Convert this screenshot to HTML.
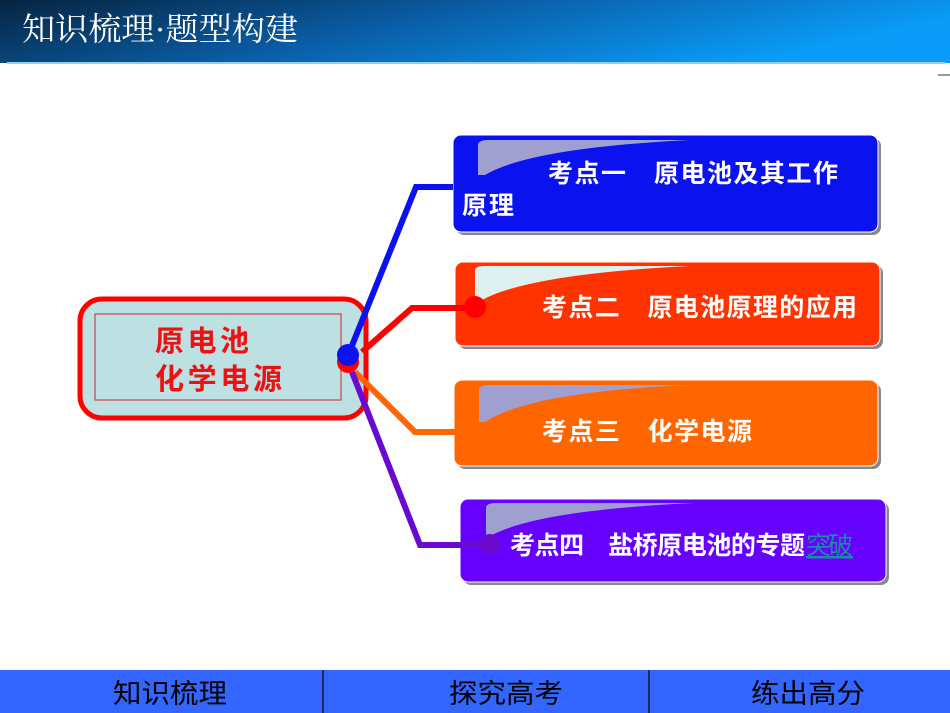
<!DOCTYPE html>
<html><head><meta charset="utf-8"><style>
html,body{margin:0;padding:0;background:#fff;}
svg{display:block}
text{font-family:"Liberation Sans","Noto Sans CJK SC",sans-serif;}
</style></head><body>
<svg width="950" height="713" viewBox="0 0 950 713" xmlns="http://www.w3.org/2000/svg">
<defs>
<linearGradient id="hg" x1="0" y1="0" x2="1" y2="0.3">
<stop offset="0" stop-color="#062440"/><stop offset="0.5" stop-color="#0a5fa8"/><stop offset="1" stop-color="#0a9cf8"/>
</linearGradient>
</defs>
<rect x="0" y="0" width="950" height="63" fill="url(#hg)"/>
<rect x="7" y="62" width="938" height="2" fill="#8fd0f0"/>
<rect x="938" y="74" width="12" height="2" fill="#999"/>
<text x="22" y="40" font-size="32" fill="#fff" textLength="276" lengthAdjust="spacingAndGlyphs" style="font-family:'Liberation Serif','Noto Serif CJK SC',serif">知识梳理·题型构建</text>

<g font-size="25" font-weight="bold" fill="#fff">
<rect x="456" y="138" width="425" height="97" rx="8" fill="#888"/>
<rect x="453" y="135" width="425" height="97" rx="8" fill="#0a12f0" stroke="#fff" stroke-width="1"/>
<path d="M478 145 Q478 140 488 140 L690 140 Q530 148 485 175 L478 175 Z" fill="#a0a0d0"/>
<text x="548" y="182" textLength="290" lengthAdjust="spacing">考点一　原电池及其工作</text>
<text x="462" y="214" textLength="52" lengthAdjust="spacing">原理</text>

<rect x="458" y="265" width="425" height="84" rx="8" fill="#888"/>
<rect x="455" y="262" width="425" height="84" rx="8" fill="#ff3300" stroke="#fff" stroke-width="1"/>
<path d="M475 270 Q475 266 485 266 L690 266 Q530 274 482 300 L475 300 Z" fill="#dff0f0"/>
<text x="542" y="316" textLength="315" lengthAdjust="spacing">考点二　原电池原理的应用</text>

<rect x="457" y="383" width="424" height="86" rx="8" fill="#888"/>
<rect x="454" y="380" width="424" height="86" rx="8" fill="#ff6600" stroke="#fff" stroke-width="1"/>
<path d="M479 390 Q479 385 489 385 L690 385 Q530 392 485 422 L479 422 Z" fill="#a0a0d0"/>
<text x="542" y="440" textLength="210" lengthAdjust="spacing">考点三　化学电源</text>

<rect x="463" y="502" width="426" height="83" rx="8" fill="#888"/>
<rect x="460" y="499" width="426" height="83" rx="8" fill="#6600ff" stroke="#fff" stroke-width="1"/>
<path d="M486 508 Q486 503 496 503 L695 503 Q540 510 492 535 L486 535 Z" fill="#a0a0d0"/>
<text x="510" y="554" textLength="295" lengthAdjust="spacing">考点四　盐桥原电池的专题</text>
<text x="806" y="554" fill="#1a8aa8" font-weight="normal" text-decoration="underline" textLength="47" lengthAdjust="spacing">突破</text>
</g>

<rect x="80" y="299" width="286" height="119" rx="22" fill="#bde0e3" stroke="#ff0000" stroke-width="5"/>
<rect x="95" y="314" width="246" height="86" fill="none" stroke="#d04050" stroke-width="1.2"/>
<g font-size="29" font-weight="bold" fill="#ee1111">
<text x="155" y="351" textLength="94" lengthAdjust="spacing">原电池</text>
<text x="155" y="389" textLength="127" lengthAdjust="spacing">化学电源</text>
</g>

<polyline points="355,372 415,432 455,432" fill="none" stroke="#ff6600" stroke-width="6"/>
<polyline points="352,372 420,545 490,545" fill="none" stroke="#6a0ad0" stroke-width="6"/>
<circle cx="490" cy="544" r="10" fill="#6a0ac8"/>
<polyline points="362,352 412,308 475,308" fill="none" stroke="#ff0000" stroke-width="6"/>
<circle cx="475" cy="307" r="11" fill="#ff0000"/>
<circle cx="348" cy="362" r="11" fill="#ff0000"/>
<polyline points="349,353 416,187 453,187" fill="none" stroke="#0a12f0" stroke-width="6"/>
<circle cx="348" cy="355" r="11" fill="#0a12f0"/>

<rect x="0" y="670" width="950" height="43" fill="#3366ff"/>
<rect x="322" y="670" width="2" height="43" fill="#1a2a66"/>
<rect x="648" y="670" width="2" height="43" fill="#1a2a66"/>
<g font-size="27" fill="#000" style="font-family:'Liberation Serif','Noto Serif CJK SC',serif">
<text x="113" y="703" textLength="114" lengthAdjust="spacingAndGlyphs">知识梳理</text>
<text x="449" y="703" textLength="114" lengthAdjust="spacingAndGlyphs">探究高考</text>
<text x="751" y="703" textLength="114" lengthAdjust="spacingAndGlyphs">练出高分</text>
</g>
</svg>
</body></html>
